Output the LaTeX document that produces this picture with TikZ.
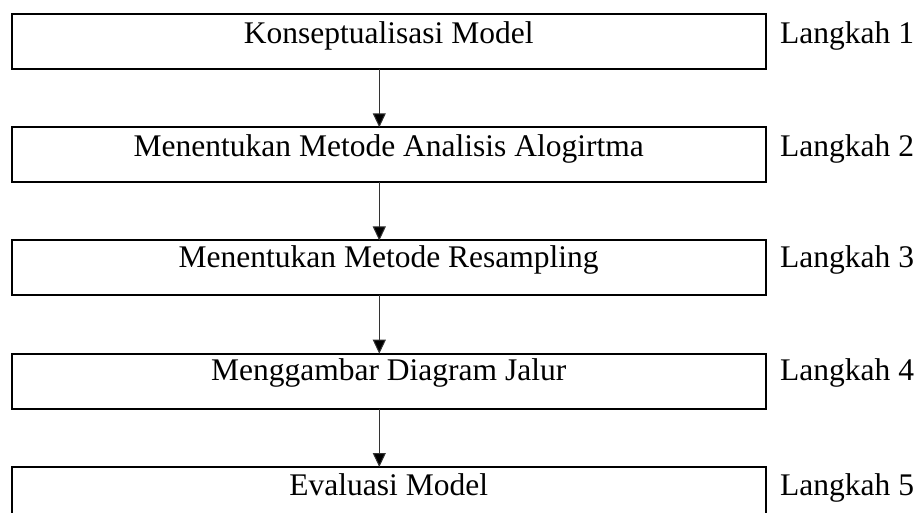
\documentclass[tikz,border=0pt]{standalone}
\usepackage{fontspec}
\setmainfont{Liberation Serif}
\usetikzlibrary{arrows.meta}
\tikzset{
  stepbox/.style={draw=black, line width=2pt, rectangle, minimum width=754pt, minimum height=55pt, inner sep=0pt, outer sep=0pt},
  steptext/.style={anchor=base, inner sep=0pt, font=\fontsize{31.5}{36}\selectfont},
  steplabel/.style={anchor=base west, inner sep=0pt, font=\fontsize{31.5}{36}\selectfont},
  flow/.style={draw=black!80, line width=1pt, -{Triangle[width=13pt,length=14pt,fill=black]}}
}
\begin{document}
\begin{tikzpicture}[x=1pt,y=-1pt]
\useasboundingbox (0,0) rectangle (919,513);
% boxes (centers), height 57 outer
\node[stepbox] (b1) at (388.7,41.5) {};
\node[stepbox] (b2) at (388.7,154.8) {};
\node[stepbox] (b3) at (388.7,268.0) {};
\node[stepbox] (b4) at (388.7,381.2) {};
\node[stepbox] (b5) at (388.7,494.5) {};
% texts
\node[steptext] (t1) at (388.7,43.5) {Konseptualisasi Model};
\node[steptext] (t2) at (388.7,156.7) {Menentukan Metode Analisis Alogirtma};
\node[steptext] (t3) at (388.7,267.5) {Menentukan Metode Resampling};
\node[steptext] (t4) at (388.7,380.8) {Menggambar Diagram Jalur};
\node[steptext] (t5) at (388.7,495.0) {Evaluasi Model};
% labels
\node[steplabel] (l1) at (780,43.5) {Langkah 1};
\node[steplabel] (l2) at (780,156.7) {Langkah 2};
\node[steplabel] (l3) at (780,267.5) {Langkah 3};
\node[steplabel] (l4) at (780,380.8) {Langkah 4};
\node[steplabel] (l5) at (780,495.0) {Langkah 5};
% arrows
\coordinate (a1s) at ([xshift=-9.4pt]b1.south);
\coordinate (a1e) at ([xshift=-9.4pt]b2.north);
\coordinate (a2s) at ([xshift=-9.4pt]b2.south);
\coordinate (a2e) at ([xshift=-9.4pt]b3.north);
\coordinate (a3s) at ([xshift=-9.4pt]b3.south);
\coordinate (a3e) at ([xshift=-9.4pt]b4.north);
\coordinate (a4s) at ([xshift=-9.4pt]b4.south);
\coordinate (a4e) at ([xshift=-9.4pt]b5.north);
\draw[flow] (a1s) -- (a1e);
\draw[flow] (a2s) -- (a2e);
\draw[flow] (a3s) -- (a3e);
\draw[flow] (a4s) -- (a4e);
\end{tikzpicture}
\end{document}
